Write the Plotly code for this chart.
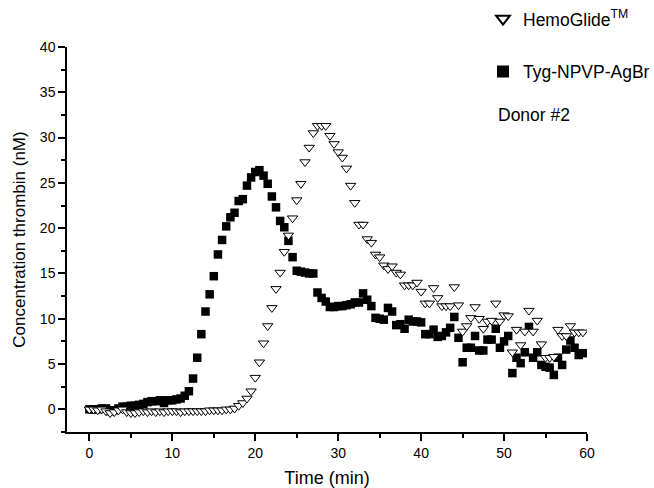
import plotly.graph_objects as go

# Time axis (min), sampled every 0.5 min
time_min = [i * 0.5 for i in range(120)]

hemoglide = [
    0.0, 0.0, -0.1, 0.0, -0.2, -0.4, -0.3, -0.1, 0.0, -0.3,
    -0.4, -0.4, -0.3, -0.2, -0.3, -0.2, -0.3, -0.2, -0.3, -0.2,
    -0.2, -0.2, -0.3, -0.2, -0.2, -0.2, -0.2, -0.2, -0.2, -0.1,
    -0.1, -0.1, -0.1, 0.0, 0.0, 0.1, 0.4, 0.7, 1.2, 2.0,
    3.5, 5.2, 7.3, 9.2, 11.2, 13.3, 15.1, 17.4, 19.2, 21.1,
    23.1, 24.9, 27.3, 28.9, 30.5, 31.3, 31.3, 31.3, 30.2, 29.3,
    28.4, 27.8, 26.6, 24.7, 22.8, 20.4, 20.4, 18.8, 18.4, 17.1,
    16.8, 15.9, 15.5, 15.8, 15.1, 14.9, 13.7, 13.7, 13.7, 14.0,
    13.0, 11.7, 11.7, 13.4, 12.3, 11.4, 11.4, 11.4, 13.5, 11.5,
    8.6, 9.2, 10.1, 11.3, 10.0, 8.9, 9.7, 9.8, 11.7, 9.7,
    10.4, 10.3, 6.3, 8.8, 7.1, 8.6, 10.9, 8.6, 9.8, 7.2,
    5.7, 5.7, 5.8, 8.8, 8.1, 8.1, 9.2, 8.5, 8.5, 8.5,
]

tyg = [
    0.0, 0.0, 0.0, 0.1, 0.1, -0.2, -0.1, 0.1, 0.3, 0.3,
    0.4, 0.4, 0.5, 0.6, 0.8, 0.9, 0.9, 1.0, 0.7, 1.0,
    1.0, 1.1, 1.2, 1.5, 2.0, 3.4, 5.7, 8.3, 10.8, 12.7,
    14.7, 17.1, 18.7, 20.2, 21.2, 21.7, 23.0, 23.2, 24.7, 25.6,
    26.2, 26.4, 25.8, 24.9, 23.5, 22.3, 20.8, 20.1, 18.6, 16.8,
    15.3, 15.2, 15.1, 15.0, 15.0, 12.9, 12.3, 11.9, 11.3, 11.3,
    11.4, 11.4, 11.5, 11.6, 11.8, 11.8, 12.8, 12.1, 11.4, 10.1,
    10.0, 9.9, 11.2, 10.8, 9.3, 9.4, 8.9, 9.9, 9.7, 9.7,
    9.6, 8.3, 8.3, 8.8, 8.0, 8.1, 8.5, 9.0, 10.2, 7.9,
    5.2, 6.8, 6.8, 8.1, 6.5, 6.5, 7.7, 7.7, 8.9, 6.8,
    7.5, 8.1, 4.0, 5.7, 5.1, 6.3, 9.1, 5.7, 6.3, 4.9,
    4.7, 4.6, 3.8, 5.7, 4.9, 6.6, 7.6, 6.8, 6.0, 6.2,
]

x_ticks = [0, 10, 20, 30, 40, 50, 60]
y_ticks = [0, 5, 10, 15, 20, 25, 30, 35, 40]

FONT = "Liberation Sans, Arial, sans-serif"

fig = go.Figure()
fig.add_trace(go.Scatter(
    x=time_min, y=tyg, mode="markers", name="Tyg-NPVP-AgBr",
    legendgroup="b", legendrank=2,
    marker=dict(symbol="square", size=8.5, color="black",
                line=dict(width=0)),
))
fig.add_trace(go.Scatter(
    x=time_min, y=hemoglide, mode="markers", name="HemoGlide<sup>TM</sup>",
    legendgroup="a", legendrank=1,
    marker=dict(symbol="triangle-down", size=9, color="white",
                line=dict(width=1, color="black")),
))

axis_common = dict(
    showline=True, linecolor="black", linewidth=1.5,
    ticks="outside", ticklen=7, tickwidth=1.5, tickcolor="black",
    showgrid=False, zeroline=False, mirror=False,
    tickfont=dict(family=FONT, size=14, color="black"),
)

fig.update_layout(
    width=654, height=488,
    margin=dict(l=67, r=67, t=47, b=56, autoexpand=False),
    paper_bgcolor="white", plot_bgcolor="white",
    font=dict(family=FONT, color="black"),
    xaxis=dict(
        range=[-2.7, 60], tickvals=x_ticks,
        minor=dict(dtick=5, tick0=0, ticks="outside", ticklen=4,
                   tickwidth=1.5, tickcolor="black"),
        title=dict(text="Time (min)", font=dict(family=FONT, size=18),
                   standoff=13),
        **axis_common,
    ),
    yaxis=dict(
        range=[-2.5, 40], tickvals=y_ticks,
        minor=dict(dtick=2.5, tick0=0, ticks="outside", ticklen=4,
                   tickwidth=1.5, tickcolor="black"),
        title=dict(text="Concentration thrombin (nM)",
                   font=dict(family=FONT, size=17), standoff=10),
        **axis_common,
    ),
    legend=dict(
        x=0.8, xanchor="left", y=1.12, yanchor="top",
        bgcolor="rgba(0,0,0,0)", borderwidth=0,
        font=dict(family=FONT, size=17.5, color="black"),
        itemsizing="constant", tracegroupgap=27,
    ),
    showlegend=True,
    annotations=[dict(
        text="Donor #2", xref="paper", yref="paper",
        x=0.825, y=0.823, xanchor="left", yanchor="middle",
        showarrow=False, font=dict(family=FONT, size=17.5, color="black"),
    )],
)

fig.write_html("out.html")
